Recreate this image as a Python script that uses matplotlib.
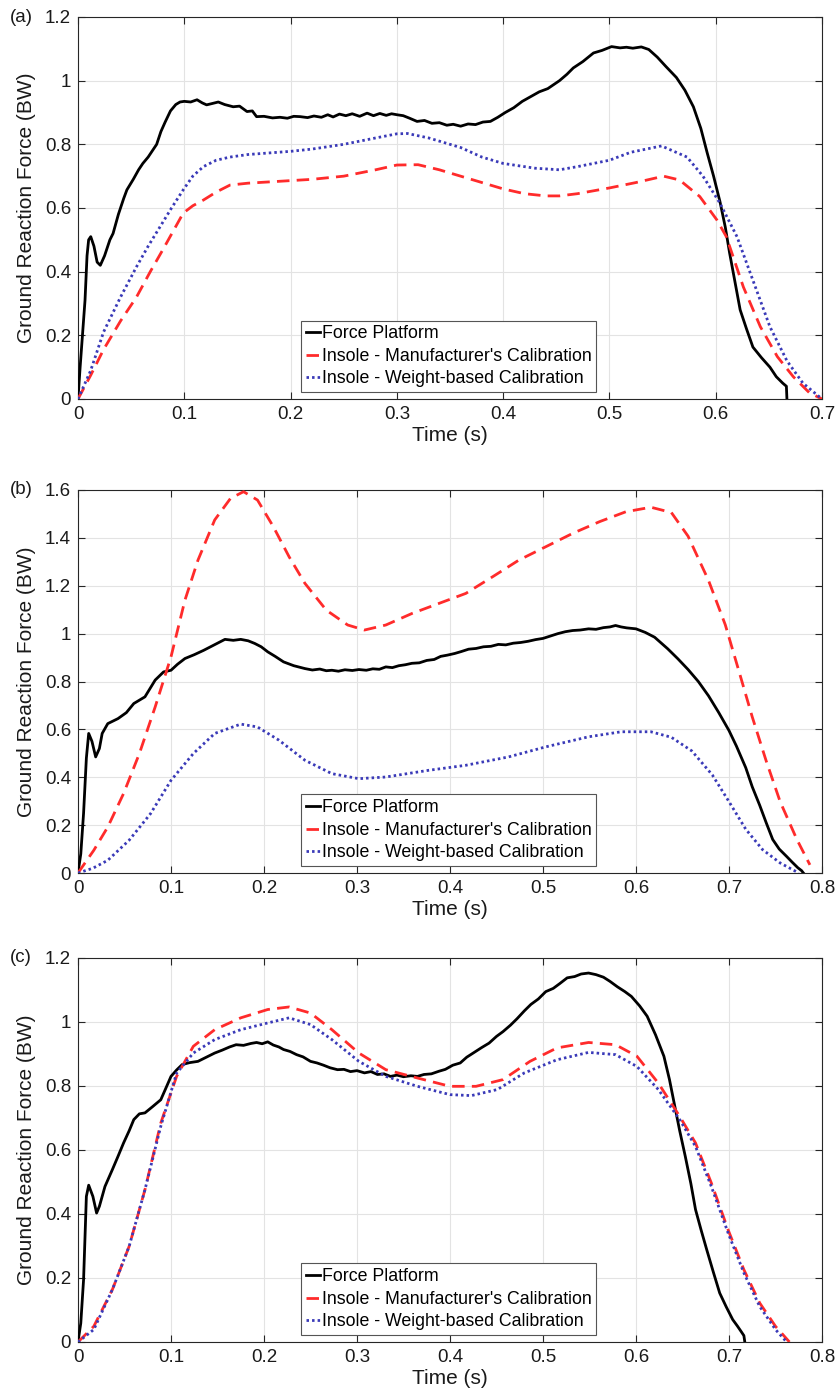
import matplotlib
matplotlib.use("Agg")
import matplotlib.pyplot as plt
from matplotlib.ticker import FuncFormatter

plt.rcParams['font.family'] = ['Liberation Sans', 'DejaVu Sans']

# ---------------- Panel (a) ----------------
a_fp_t = [0, 0.002, 0.0066, 0.0085, 0.010, 0.012, 0.015, 0.018, 0.021, 0.025, 0.030, 0.033, 0.038,
          0.043, 0.046, 0.052, 0.057, 0.061, 0.066, 0.070, 0.074, 0.078, 0.082, 0.087, 0.092, 0.096,
          0.100, 0.106, 0.112, 0.117, 0.121, 0.126, 0.132, 0.138, 0.146, 0.152, 0.159, 0.164, 0.168,
          0.175, 0.183, 0.190, 0.197, 0.203, 0.209, 0.216, 0.222, 0.229, 0.235, 0.240, 0.246, 0.252,
          0.258, 0.265, 0.272, 0.278, 0.284, 0.290, 0.295, 0.300, 0.306, 0.312, 0.319, 0.326, 0.333,
          0.340, 0.347, 0.353, 0.360, 0.367, 0.374, 0.381, 0.388, 0.395, 0.402, 0.410, 0.418, 0.426,
          0.434, 0.442, 0.453, 0.460, 0.466, 0.475, 0.485, 0.493, 0.502, 0.510, 0.516, 0.522, 0.530,
          0.537, 0.545, 0.553, 0.563, 0.571, 0.579, 0.586, 0.592, 0.598, 0.604, 0.609, 0.613, 0.618,
          0.623, 0.629, 0.635, 0.643, 0.651, 0.657, 0.663, 0.6665, 0.667]
a_fp_v = [0, 0.10, 0.31, 0.45, 0.50, 0.51, 0.48, 0.43, 0.42, 0.45, 0.50, 0.52, 0.58,
          0.63, 0.657, 0.69, 0.72, 0.74, 0.76, 0.78, 0.80, 0.84, 0.87, 0.905, 0.925, 0.933,
          0.935, 0.933, 0.94, 0.93, 0.924, 0.928, 0.933, 0.925, 0.918, 0.92, 0.903, 0.905, 0.887,
          0.888, 0.883, 0.885, 0.882, 0.888, 0.887, 0.884, 0.889, 0.885, 0.893, 0.886, 0.895, 0.89,
          0.896, 0.888, 0.898, 0.89, 0.897, 0.891, 0.896, 0.893, 0.89, 0.882, 0.872, 0.875, 0.866,
          0.868, 0.86, 0.863, 0.857, 0.864, 0.862, 0.87, 0.872, 0.885, 0.9, 0.915, 0.935, 0.95,
          0.965, 0.975, 1.0, 1.02, 1.04, 1.06, 1.087, 1.095, 1.107, 1.103, 1.105, 1.102, 1.106,
          1.098, 1.074, 1.045, 1.01, 0.97, 0.918, 0.85, 0.773, 0.70, 0.62, 0.54, 0.46, 0.37,
          0.28, 0.22, 0.163, 0.13, 0.10, 0.07, 0.05, 0.04, 0.0]

a_man_t = [0, 0.012, 0.024, 0.040, 0.055, 0.068, 0.080, 0.090, 0.099, 0.108, 0.118, 0.130, 0.143,
           0.160, 0.180, 0.200, 0.220, 0.250, 0.280, 0.300, 0.320, 0.340, 0.360, 0.380, 0.400,
           0.420, 0.440, 0.453, 0.470, 0.500, 0.525, 0.551, 0.566, 0.585, 0.601, 0.610, 0.626,
           0.642, 0.658, 0.673, 0.688, 0.700]
a_man_v = [0, 0.075, 0.155, 0.245, 0.32, 0.40, 0.47, 0.53, 0.584, 0.607, 0.625, 0.65, 0.672,
           0.678, 0.682, 0.686, 0.69, 0.70, 0.72, 0.735, 0.736, 0.72, 0.70, 0.68, 0.66,
           0.645, 0.638, 0.638, 0.645, 0.663, 0.68, 0.70, 0.688, 0.636, 0.563, 0.51, 0.352,
           0.227, 0.133, 0.07, 0.02, 0.0]

a_wb_t = [0, 0.012, 0.024, 0.040, 0.055, 0.066, 0.077, 0.088, 0.099, 0.108, 0.118, 0.130, 0.143,
          0.160, 0.180, 0.200, 0.220, 0.250, 0.280, 0.300, 0.310, 0.330, 0.360, 0.380, 0.400,
          0.430, 0.453, 0.470, 0.500, 0.520, 0.549, 0.573, 0.588, 0.604, 0.620, 0.635, 0.651,
          0.667, 0.682, 0.700]
a_wb_v = [0, 0.09, 0.21, 0.32, 0.415, 0.48, 0.54, 0.60, 0.657, 0.70, 0.73, 0.75, 0.76,
          0.768, 0.773, 0.778, 0.785, 0.80, 0.82, 0.833, 0.834, 0.82, 0.79, 0.76, 0.74,
          0.725, 0.72, 0.73, 0.75, 0.775, 0.795, 0.76, 0.70, 0.615, 0.51, 0.373, 0.227,
          0.12, 0.05, 0.0]

# ---------------- Panel (b) ----------------
b_fp_t = [0, 0.003, 0.006, 0.009, 0.0115, 0.015, 0.019, 0.023, 0.026, 0.032, 0.043, 0.052, 0.060,
          0.072, 0.083, 0.092, 0.100, 0.107, 0.115, 0.125, 0.135, 0.146, 0.158, 0.167, 0.175, 0.183,
          0.190, 0.197, 0.204, 0.212, 0.221, 0.232, 0.244, 0.252, 0.260, 0.267, 0.273, 0.280, 0.287,
          0.295, 0.302, 0.310, 0.317, 0.324, 0.331, 0.338, 0.345, 0.352, 0.359, 0.367, 0.375, 0.383,
          0.390, 0.397, 0.405, 0.412, 0.420, 0.428, 0.436, 0.444, 0.452, 0.460, 0.468, 0.476, 0.484,
          0.492, 0.500, 0.508, 0.516, 0.524, 0.532, 0.540, 0.549, 0.557, 0.565, 0.572, 0.578, 0.584,
          0.590, 0.600, 0.610, 0.620, 0.634, 0.645, 0.656, 0.667, 0.678, 0.689, 0.700, 0.708,
          0.718, 0.725, 0.733, 0.740, 0.747, 0.754, 0.762, 0.768, 0.774, 0.778, 0.780]
b_fp_v = [0, 0.08, 0.25, 0.48, 0.583, 0.55, 0.485, 0.52, 0.583, 0.624, 0.645, 0.67, 0.708,
          0.736, 0.806, 0.84, 0.847, 0.872, 0.896, 0.912, 0.93, 0.952, 0.976, 0.972, 0.976, 0.97,
          0.959, 0.945, 0.924, 0.905, 0.882, 0.866, 0.854, 0.848, 0.852, 0.845, 0.847, 0.843, 0.849,
          0.846, 0.85, 0.847, 0.853, 0.851, 0.861, 0.858, 0.866, 0.87, 0.876, 0.878, 0.888, 0.892,
          0.905, 0.91, 0.917, 0.925, 0.935, 0.938, 0.945, 0.947, 0.955, 0.953, 0.96, 0.963, 0.968,
          0.975, 0.98, 0.99, 1.0, 1.008, 1.013, 1.015, 1.02, 1.018, 1.025, 1.028, 1.034, 1.028,
          1.024, 1.02, 1.005, 0.985, 0.937, 0.895, 0.85, 0.80, 0.74, 0.67, 0.595, 0.53,
          0.44, 0.36, 0.283, 0.21, 0.14, 0.10, 0.069, 0.045, 0.022, 0.01, 0.0]

b_man_t = [0, 0.017, 0.032, 0.049, 0.066, 0.083, 0.100, 0.115, 0.129, 0.147, 0.164, 0.178, 0.193,
           0.210, 0.227, 0.244, 0.267, 0.290, 0.308, 0.331, 0.359, 0.388, 0.417, 0.446, 0.474,
           0.503, 0.532, 0.561, 0.589, 0.616, 0.638, 0.656, 0.678, 0.696, 0.711, 0.725, 0.740,
           0.755, 0.773, 0.787]
b_man_v = [0, 0.095, 0.192, 0.332, 0.499, 0.694, 0.903, 1.14, 1.307, 1.475, 1.565, 1.593, 1.558,
           1.447, 1.321, 1.21, 1.098, 1.036, 1.015, 1.036, 1.084, 1.126, 1.168, 1.238, 1.307,
           1.363, 1.419, 1.468, 1.509, 1.528, 1.506, 1.407, 1.222, 1.037, 0.839, 0.652, 0.468,
           0.298, 0.14, 0.034]

b_wb_t = [0, 0.016, 0.032, 0.055, 0.078, 0.100, 0.124, 0.147, 0.175, 0.193, 0.216, 0.244, 0.273,
          0.302, 0.331, 0.377, 0.417, 0.463, 0.503, 0.549, 0.584, 0.616, 0.638, 0.660, 0.682,
          0.700, 0.718, 0.736, 0.755, 0.775]
b_wb_v = [0, 0.02, 0.053, 0.137, 0.248, 0.387, 0.499, 0.583, 0.622, 0.61, 0.555, 0.471, 0.415,
          0.394, 0.401, 0.429, 0.45, 0.485, 0.527, 0.569, 0.59, 0.59, 0.567, 0.51, 0.41,
          0.298, 0.183, 0.098, 0.042, 0.0]

# ---------------- Panel (c) ----------------
c_fp_t = [0, 0.003, 0.006, 0.009, 0.0115, 0.016, 0.020, 0.023, 0.029, 0.037, 0.043, 0.049, 0.055,
          0.060, 0.066, 0.072, 0.080, 0.089, 0.094, 0.100, 0.106, 0.112, 0.120, 0.129, 0.138, 0.147,
          0.155, 0.163, 0.170, 0.178, 0.186, 0.192, 0.198, 0.204, 0.210, 0.216, 0.221, 0.228, 0.235,
          0.242, 0.250, 0.257, 0.264, 0.271, 0.279, 0.286, 0.293, 0.300, 0.308, 0.315, 0.322, 0.329,
          0.336, 0.343, 0.350, 0.358, 0.365, 0.372, 0.380, 0.388, 0.395, 0.403, 0.411, 0.418, 0.426,
          0.434, 0.442, 0.450, 0.457, 0.465, 0.472, 0.480, 0.487, 0.495, 0.503, 0.511, 0.518, 0.526,
          0.534, 0.541, 0.549, 0.557, 0.565, 0.572, 0.580, 0.588, 0.595, 0.604, 0.612, 0.621, 0.630,
          0.636, 0.641, 0.647, 0.653, 0.659, 0.664, 0.670, 0.676, 0.683, 0.690, 0.697, 0.704, 0.709,
          0.713, 0.716, 0.717]
c_fp_v = [0, 0.059, 0.195, 0.455, 0.49, 0.455, 0.403, 0.424, 0.486, 0.539, 0.58, 0.622, 0.66,
          0.695, 0.713, 0.716, 0.735, 0.757, 0.79, 0.83, 0.85, 0.867, 0.873, 0.877, 0.89, 0.903,
          0.912, 0.922, 0.929, 0.927, 0.933, 0.936, 0.932, 0.938, 0.928, 0.922, 0.914, 0.908, 0.898,
          0.891, 0.877, 0.872, 0.865, 0.857, 0.851, 0.852, 0.845, 0.848, 0.841, 0.845, 0.836, 0.838,
          0.83, 0.834, 0.829, 0.832, 0.83, 0.836, 0.838, 0.846, 0.852, 0.865, 0.872, 0.89, 0.905,
          0.92, 0.934, 0.955, 0.97, 0.99, 1.01, 1.035, 1.055, 1.072, 1.095, 1.105, 1.12, 1.138,
          1.142, 1.15, 1.153, 1.148, 1.14, 1.127, 1.11, 1.095, 1.08, 1.05, 1.018, 0.96, 0.893,
          0.82, 0.747, 0.66, 0.58, 0.495, 0.414, 0.35, 0.289, 0.22, 0.153, 0.11, 0.07, 0.05,
          0.033, 0.02, 0.0]

c_man_t = [0, 0.017, 0.037, 0.055, 0.072, 0.089, 0.106, 0.124, 0.147, 0.175, 0.204, 0.227, 0.250,
           0.273, 0.302, 0.331, 0.365, 0.400, 0.428, 0.457, 0.486, 0.515, 0.549, 0.578, 0.601,
           0.624, 0.647, 0.664, 0.681, 0.699, 0.716, 0.733, 0.750, 0.765]
c_man_v = [0, 0.049, 0.164, 0.299, 0.476, 0.684, 0.83, 0.924, 0.976, 1.013, 1.039, 1.047, 1.028,
           0.976, 0.903, 0.851, 0.825, 0.799, 0.799, 0.82, 0.877, 0.919, 0.936, 0.929, 0.893,
           0.809, 0.705, 0.622, 0.497, 0.351, 0.226, 0.122, 0.049, 0.0]

c_wb_t = [0, 0.017, 0.037, 0.055, 0.072, 0.089, 0.106, 0.124, 0.147, 0.175, 0.204, 0.227, 0.250,
          0.273, 0.302, 0.331, 0.365, 0.400, 0.423, 0.451, 0.480, 0.515, 0.549, 0.578, 0.601,
          0.624, 0.647, 0.664, 0.681, 0.699, 0.716, 0.733, 0.750, 0.762]
c_wb_v = [0, 0.039, 0.164, 0.299, 0.476, 0.674, 0.84, 0.903, 0.945, 0.976, 0.997, 1.013, 0.992,
          0.945, 0.877, 0.83, 0.799, 0.773, 0.77, 0.789, 0.841, 0.882, 0.905, 0.898, 0.861,
          0.789, 0.695, 0.611, 0.486, 0.341, 0.216, 0.111, 0.039, 0.0]

labels = ["Force Platform", "Insole - Manufacturer's Calibration", "Insole - Weight-based Calibration"]
panel_tags = ["(a)", "(b)", "(c)"]
x_max = [0.7, 0.8, 0.8]
y_max = [1.2, 1.6, 1.2]

panels = [
    (a_fp_t, a_fp_v, a_man_t, a_man_v, a_wb_t, a_wb_v),
    (b_fp_t, b_fp_v, b_man_t, b_man_v, b_wb_t, b_wb_v),
    (c_fp_t, c_fp_v, c_man_t, c_man_v, c_wb_t, c_wb_v),
]

W, H = 840, 1400
fig = plt.figure(figsize=(W / 100, H / 100), dpi=100)

# axes pixel boxes: (left, top, right, bottom)
boxes = [(78, 17, 822, 399), (78, 490, 822, 873), (78, 958, 822, 1342)]

red = '#ff2b2b'
blue = '#3a3ab8'
frame_col = '#262626'


def fmt(v, pos):
    return ('%g' % round(v, 3))


for i, (box, data) in enumerate(zip(boxes, panels)):
    l, t, r, b = box
    ax = fig.add_axes([l / W, 1 - b / H, (r - l) / W, (b - t) / H])
    fp_t, fp_v, m_t, m_v, w_t, w_v = data
    ax.plot(fp_t, fp_v, color='black', lw=2.0, label=labels[0], zorder=3)
    ax.plot(m_t, m_v, color=red, lw=2.0, ls=(0, (4.5, 2.6)), label=labels[1], zorder=3)
    ax.plot(w_t, w_v, color=blue, lw=2.0, ls=(0, (0.9, 1.1)), label=labels[2], zorder=3)
    ax.set_xlim(0, x_max[i])
    ax.set_ylim(0, y_max[i])
    ax.set_xticks([k / 10 for k in range(int(round(x_max[i] * 10)) + 1)])
    ax.set_yticks([k / 5 for k in range(int(round(y_max[i] * 5)) + 1)])
    ax.xaxis.set_major_formatter(FuncFormatter(fmt))
    ax.yaxis.set_major_formatter(FuncFormatter(fmt))
    ax.grid(True, color='#e3e3e3', lw=0.8, zorder=0)
    ax.set_axisbelow(True)
    for s in ax.spines.values():
        s.set_color(frame_col)
        s.set_linewidth(0.8)
    ax.tick_params(direction='in', length=5, width=0.8, color=frame_col,
                   labelsize=13.5, labelcolor='#1a1a1a', top=True, right=True, pad=5)
    ax.set_xlabel('Time (s)', fontsize=15, color='#1a1a1a', labelpad=2)
    ax.set_ylabel('Ground Reaction Force (BW)', fontsize=15, color='#1a1a1a', labelpad=6)
    leg = ax.legend(loc='lower center', bbox_to_anchor=(0.498, 0.018), borderaxespad=0,
                    fontsize=12.8, handlelength=0.8, handletextpad=0.1, labelspacing=0.3,
                    borderpad=0.28, fancybox=False, framealpha=1, edgecolor='#555555')
    leg.get_frame().set_linewidth(0.8)
    fig.text(10 / W, 1 - t / H, panel_tags[i], fontsize=13.5, va='center', ha='left', color='#1a1a1a')

fig.savefig('out.png', dpi=100)
